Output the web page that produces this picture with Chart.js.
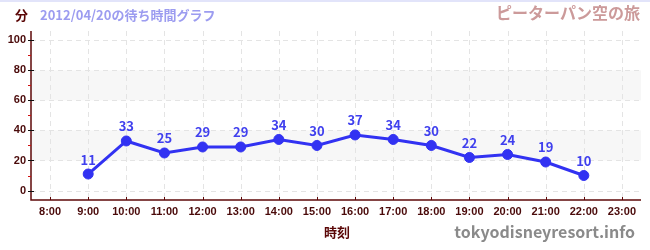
<!DOCTYPE html>
<html>
<head>
<meta charset="utf-8">
<script src="https://cdn.jsdelivr.net/npm/chart.js@4/dist/chart.umd.min.js"></script>
<style>
  html, body { margin: 0; padding: 0; background: #fff; }
  canvas { display: block; }
</style>
</head>
<body>
<canvas id="wait-chart" width="650" height="250"></canvas>
<script>
// --- datos del gráfico ---
const hourLabels = ['8:00', '9:00', '10:00', '11:00', '12:00', '13:00', '14:00', '15:00',
                    '16:00', '17:00', '18:00', '19:00', '20:00', '21:00', '22:00', '23:00'];
const waitMinutes = [null, 11, 33, 25, 29, 29, 34, 30, 37, 34, 30, 22, 24, 19, 10, null];
const yTickValues = [0, 20, 40, 60, 80, 100];
const yMinorValues = [10, 30, 50, 70, 90];
const bandRanges = [[20, 40], [60, 80]];

const unitLabel = '分';
const subTitle = '2012/04/20の待ち時間グラフ';
const attraction = 'ピーターパン空の旅';
const xTitle = '時刻';
const siteName = 'tokyodisneyresort.info';

const AXIS = '#5e0808';
const TICK_TXT = '#4a0a0a';
const LINE = '#3232f2';
const JP = '"Noto Sans CJK JP", "Noto Sans", sans-serif';
const LAT = '"Liberation Sans", Arial, sans-serif';

// fondo, bandas y rejilla punteada
const backdrop = {
    id: 'backdrop',
    beforeDraw(chart) {
        const { ctx, chartArea: a, scales: { x, y } } = chart;
        ctx.save();
        ctx.fillStyle = '#fff';
        ctx.fillRect(0, 0, chart.width, chart.height);
        ctx.fillStyle = '#e2e4fa';
        ctx.fillRect(0, 0, chart.width, 2);
        ctx.fillStyle = '#f7f7f7';
        bandRanges.forEach(([lo, hi]) => {
            const top = y.getPixelForValue(hi), bot = y.getPixelForValue(lo);
            ctx.fillRect(a.left, top, a.right - a.left, bot - top);
        });
        ctx.strokeStyle = '#e4e4e4';
        ctx.lineWidth = 1;
        ctx.setLineDash([5, 4]);
        yTickValues.forEach(v => {
            const py = Math.round(y.getPixelForValue(v)) + 0.5;
            ctx.beginPath(); ctx.moveTo(a.left, py); ctx.lineTo(a.right, py); ctx.stroke();
        });
        hourLabels.forEach((_, i) => {
            const px = Math.round(x.getPixelForValue(i)) + 0.5;
            ctx.beginPath(); ctx.moveTo(px, a.top); ctx.lineTo(px, a.bottom); ctx.stroke();
        });
        ctx.restore();
    }
};

// ejes, marcas, etiquetas de valores y títulos
const overlay = {
    id: 'overlay',
    afterDraw(chart) {
        const { ctx, chartArea: a, scales: { x, y } } = chart;
        ctx.save();
        ctx.strokeStyle = AXIS;
        ctx.lineWidth = 1.5;
        ctx.beginPath();
        ctx.moveTo(a.left, a.top); ctx.lineTo(a.left, a.bottom); ctx.lineTo(a.right, a.bottom);
        ctx.stroke();

        ctx.lineWidth = 1;
        ctx.strokeStyle = '#d01010';
        yMinorValues.forEach(v => {
            const py = Math.round(y.getPixelForValue(v)) + 0.5;
            ctx.beginPath(); ctx.moveTo(a.left - 3, py); ctx.lineTo(a.left, py); ctx.stroke();
        });
        ctx.strokeStyle = '#111';
        yTickValues.forEach(v => {
            const py = Math.round(y.getPixelForValue(v)) + 0.5;
            ctx.beginPath(); ctx.moveTo(a.left - 3, py); ctx.lineTo(a.left + 3, py); ctx.stroke();
        });
        ctx.strokeStyle = AXIS;
        hourLabels.forEach((_, i) => {
            const px = Math.round(x.getPixelForValue(i)) + 0.5;
            ctx.beginPath(); ctx.moveTo(px, a.bottom - 3); ctx.lineTo(px, a.bottom); ctx.stroke();
        });

        // valores encima de cada punto
        const meta = chart.getDatasetMeta(0);
        ctx.fillStyle = '#4040ee';
        ctx.font = 'bold 13px ' + JP;
        ctx.textAlign = 'center';
        ctx.textBaseline = 'alphabetic';
        meta.data.forEach((pt, i) => {
            if (waitMinutes[i] == null) return;
            ctx.fillText(String(waitMinutes[i]), pt.x, pt.y - 9.5);
        });

        ctx.textBaseline = 'middle';
        ctx.textAlign = 'left';
        ctx.fillStyle = '#5a0606';
        ctx.font = 'bold 13px ' + JP;
        ctx.fillText(unitLabel, 15, 15);
        ctx.fillStyle = '#9c9cf0';
        ctx.fillText(subTitle, 40, 15);

        ctx.textAlign = 'right';
        ctx.fillStyle = '#cc9a9a';
        ctx.font = 'bold 16px ' + JP;
        ctx.fillText(attraction, 640, 13);

        ctx.textAlign = 'center';
        ctx.fillStyle = '#5a0606';
        ctx.font = 'bold 13px ' + JP;
        ctx.fillText(xTitle, 337, 232);

        ctx.textAlign = 'right';
        ctx.fillStyle = '#8a8a8a';
        ctx.font = 'bold 16px ' + JP;
        ctx.fillText(siteName, 635, 232);
        ctx.restore();
    }
};

new Chart(document.getElementById('wait-chart'), {
    type: 'line',
    data: {
        labels: hourLabels,
        datasets: [{
            data: waitMinutes,
            borderColor: LINE,
            backgroundColor: LINE,
            borderWidth: 3,
            pointRadius: 5,
            pointBorderWidth: 1,
            pointBackgroundColor: LINE,
            pointBorderColor: LINE,
            tension: 0,
            spanGaps: false
        }]
    },
    options: {
        responsive: false,
        animation: false,
        layout: { padding: { top: 31, right: 9, left: 0, bottom: 0 } },
        plugins: { legend: { display: false }, tooltip: { enabled: false }, title: { display: false } },
        scales: {
            x: {
                type: 'category',
                offset: true,
                grid: { display: false, drawTicks: false },
                border: { display: false },
                ticks: { color: TICK_TXT, font: { family: LAT, size: 11, weight: 'bold' }, padding: 5, maxRotation: 0, autoSkip: false },
                afterFit(s) { s.height = 50; }
            },
            y: {
                min: -6.3,
                max: 106.2,
                grid: { display: false, drawTicks: false },
                border: { display: false },
                ticks: { stepSize: 20, includeBounds: false, color: TICK_TXT, font: { family: LAT, size: 11, weight: 'bold' }, padding: 5 },
                afterFit(s) { s.width = 31; }
            }
        }
    },
    plugins: [backdrop, overlay]
});
</script>
</body>
</html>
